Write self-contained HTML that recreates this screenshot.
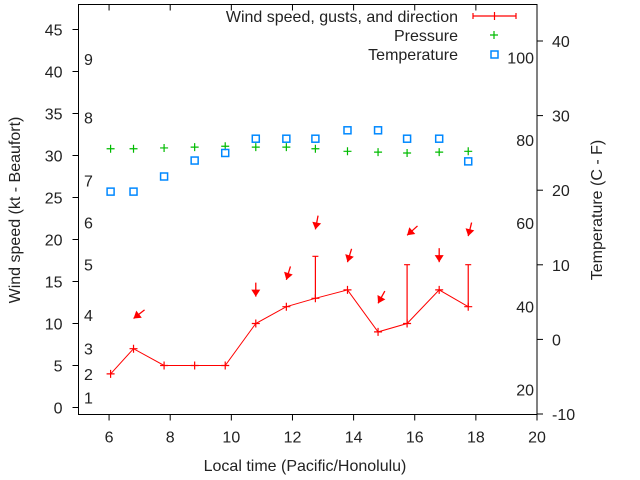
<!DOCTYPE html>
<html><head><meta charset="utf-8"><style>
html,body{margin:0;padding:0;background:#fff}
svg{display:block;font-family:"Liberation Sans",sans-serif}
</style></head><body>
<svg id="c" width="640" height="480" viewBox="0 0 640 480"></svg>
<script>
const times=[6.05,6.8,7.8,8.8,9.8,10.8,11.8,12.75,13.8,14.8,15.75,16.8,17.75];
const wind=[4,7,5,5,5,10,12,13,14,9,10,14,12];
const gustTimes=[12.75,15.75,17.75];
const gustVals=[18,17,17];
const pressure=[30.8,30.8,30.9,31,31.1,31,31,30.8,30.5,30.4,30.3,30.4,30.5];
const temperature=[25.7,25.7,27.5,29.4,30.3,32,32,32,33,33,32,32,29.3];
const arrowTimes=[6.8,10.8,11.8,12.75,13.8,14.8,15.75,16.8,17.75];
const arrowVals=[10.6,13.2,15.2,21.2,17.3,12.4,20.5,17.3,20.4];
const arrowDirs=[52,0,17,11,17,29,48,0,14];
const xTicks=[6,8,10,12,14,16,18,20];
const yTicks=[0,5,10,15,20,25,30,35,40,45];
const y2Ticks=[-10,0,10,20,30,40];
const beaufortLabels=["1","2","3","4","5","6","7","8","9"];
const beaufortVals=[1.2,4,7,11,17,22,27,34.5,41.5];
const fLabels=["20","40","60","80","100"];
const fVals=[-6.7,4.4,15.6,26.7,37.8];

const FS=16;
const L=78.5,R=537,T=4.5,B=414.5;
const X=v=>L+(v-5)*(R-L)/15;
const Y=v=>407.5-v*8.4;
const Y2=v=>414-(v+10)*7.46;
const svg=document.getElementById('c');
const NS='http://www.w3.org/2000/svg';
function mk(tag,attrs,parent){const e=document.createElementNS(NS,tag);for(const k in attrs)e.setAttribute(k,attrs[k]);(parent||svg).appendChild(e);return e;}
function txt(s,x,y,anchor,size,fill){const e=mk('text',{x:x,y:y,'text-anchor':anchor,'font-size':size||FS,fill:fill||'#222'});e.textContent=s;return e;}

const fr=mk('rect',{x:L,y:T,width:R-L,height:B-T,fill:'none',stroke:'#000','stroke-width':1});


xTicks.forEach(t=>{
 const x=X(t);
 mk('line',{x1:x,y1:B,x2:x,y2:B+6,stroke:'#000'});
 mk('line',{x1:x,y1:T,x2:x,y2:T+6,stroke:'#000'});
 const e=txt(String(t),x,B+28,'middle');
 
 
});
yTicks.forEach(t=>{
 const y=Y(t);
 mk('line',{x1:L-6,y1:y,x2:L,y2:y,stroke:'#000'});
 const e=txt(String(t),L-16,y+6,'end');
 
 
});
y2Ticks.forEach(t=>{
 const y=Y2(t);
 mk('line',{x1:R,y1:y,x2:R+6,y2:y,stroke:'#000'});
 const e=txt(String(t),R+15,y+6,'start');
 
 
});
beaufortLabels.forEach((s,i)=>{
 const e=txt(s,84,Y(beaufortVals[i])+6,'start');
 
 
});
fLabels.forEach((s,i)=>{
 const e=txt(s,534,Y2(fVals[i])+6,'end');
 
 
});
let e=txt('Wind speed (kt - Beaufort)',0,0,'middle');
e.setAttribute('transform','translate(20,210) rotate(-90)');


e=txt('Temperature (C - F)',0,0,'middle');
e.setAttribute('transform','translate(602,210) rotate(-90)');


e=txt('Local time (Pacific/Honolulu)',305,471,'middle');



const wl=mk('polyline',{points:times.map((t,i)=>X(t)+','+Y(wind[i])).join(' '),fill:'none',stroke:'#f00','stroke-width':1});


times.forEach((t,i)=>{
 const x=X(t),y=Y(wind[i]);
 const g=mk('path',{d:`M${x-4},${y}H${x+4}M${x},${y-4}V${y+4}`,stroke:'#f00','stroke-width':1.2});
 
 
});
gustTimes.forEach((t,i)=>{
 const x=X(t);const j=times.indexOf(t);
 const g=mk('path',{d:`M${x},${Y(wind[j])}V${Y(gustVals[i])}M${x-3},${Y(gustVals[i])}H${x+3}`,stroke:'#f00','stroke-width':1.2});
 
 
});
arrowTimes.forEach((t,i)=>{
 const x=X(t),y=Y(arrowVals[i]);const a=arrowDirs[i]*Math.PI/180;
 const dx=Math.sin(a),dy=-Math.cos(a);
 const tx=x+dx*14,ty=y+dy*14;
 const px=-dy,py=dx;
 const bx=x+dx*7,by=y+dy*7;
 const g=mk('g',{});
 
 
 mk('line',{x1:tx,y1:ty,x2:x,y2:y,stroke:'#f00','stroke-width':1.3},g);
 mk('polygon',{points:`${x},${y} ${bx+px*4.5},${by+py*4.5} ${bx-px*4.5},${by-py*4.5}`,fill:'#f00'},g);
});
times.forEach((t,i)=>{
 const x=X(t),y=Y(pressure[i]);
 const g=mk('path',{d:`M${x-4},${y}H${x+4}M${x},${y-4}V${y+4}`,stroke:'#0b0','stroke-width':1.2});
 
 
});
times.forEach((t,i)=>{
 const x=X(t),y=Y(temperature[i]);
 const g=mk('rect',{x:x-3.5,y:y-3.5,width:7,height:7,fill:'none',stroke:'#08f','stroke-width':1.5});
 
 
});
const lg=mk('g',{});


[['Wind speed, gusts, and direction',22],['Pressure',41],['Temperature',60]].forEach(([s,y])=>{
 const t=document.createElementNS(NS,'text');
 t.setAttribute('x',458);t.setAttribute('y',y);t.setAttribute('text-anchor','end');t.setAttribute('font-size',FS);t.setAttribute('fill','#222');
 t.textContent=s;lg.appendChild(t);
 
 
});
mk('path',{d:'M473,16H516M473,13V19M516,13V19M494.5,12V20',stroke:'#f00','stroke-width':1.2},lg);
mk('path',{d:'M490,35H498M494,31V39',stroke:'#0b0','stroke-width':1.2},lg);
mk('rect',{x:491,y:51,width:7,height:7,fill:'none',stroke:'#08f','stroke-width':1.5},lg);
</script>
</body></html>
